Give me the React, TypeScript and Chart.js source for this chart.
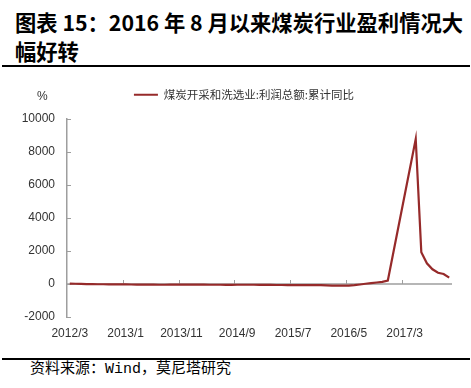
import React, { useEffect, useRef } from "react";
import { Chart, registerables } from "chart.js";

Chart.register(...registerables);

// ---- data ----
const START_YEAR = 2012;
const START_MONTH = 3;
const MONTH_COUNT = 69; // 2012/3 .. 2017/11

const CATEGORIES: string[] = [];
for (let k = 0; k < MONTH_COUNT; k++) {
  const m = START_MONTH - 1 + k;
  CATEGORIES.push(`${START_YEAR + Math.floor(m / 12)}/${(m % 12) + 1}`);
}

const TICK_LABELS = ["2012/3", "2013/1", "2013/11", "2014/9", "2015/7", "2016/5", "2017/3"];

const VALUES_2012 = [25, 15, 5, -5, -10, -15, -15, -18, -18, -20]; // 3..12
const VALUES_2013 = [-25, -30, -35, -40, -40, -42, -45, -45, -43, -42, -40, -40];
const VALUES_2014 = [-38, -40, -42, -44, -45, -46, -47, -47, -46, -46, -46, -46];
const VALUES_2015 = [-50, -55, -58, -60, -62, -63, -64, -65, -65, -66, -65, -65];
const VALUES_2016 = [-80, -95, -100, -100, -95, -70, -30, 15, 50, 90, 130, 210];
const VALUES_2017 = [null, null, null, null, 8788, 1921, 1255, 891, 685, 606, 382]; // 1..11

const SERIES_VALUES: (number | null)[] = [
  ...VALUES_2012,
  ...VALUES_2013,
  ...VALUES_2014,
  ...VALUES_2015,
  ...VALUES_2016,
  ...VALUES_2017,
];

const SERIES_NAME = "煤炭开采和洗选业:利润总额:累计同比";
const Y_MIN = -2000;
const Y_MAX = 10000;
const Y_STEP = 2000;

const LINE_COLOR = "#962a2a";
const AXIS_COLOR = "#9e9e9e";
const TEXT_COLOR = "#333333";

const excelAxes = {
  id: "excelAxes",
  beforeDatasetsDraw(chart: any) {
    const { ctx, chartArea, scales } = chart;
    const x = scales.x;
    const y = scales.y;
    const y0 = y.getPixelForValue(0);
    ctx.save();
    ctx.strokeStyle = AXIS_COLOR;
    ctx.lineWidth = 1.5;
    ctx.beginPath();
    ctx.moveTo(chartArea.left, y0);
    ctx.lineTo(chartArea.right, y0);
    ctx.stroke();
    ctx.lineWidth = 1;
    ctx.beginPath();
    CATEGORIES.forEach((c, i) => {
      if (i === 0 || !TICK_LABELS.includes(c)) return;
      const px = Math.round(x.getPixelForValue(i - 0.5)) + 0.5;
      ctx.moveTo(px, y0);
      ctx.lineTo(px, y0 - 4);
    });
    y.ticks.forEach((_t: any, idx: number) => {
      const py = Math.round(y.getPixelForTick(idx)) + 0.5;
      ctx.moveTo(chartArea.left, py);
      ctx.lineTo(chartArea.left + 4, py);
    });
    ctx.stroke();
    ctx.restore();
  },
};

function LineChart() {
  const ref = useRef<HTMLCanvasElement | null>(null);
  useEffect(() => {
    if (!ref.current) return;
    const chart = new Chart(ref.current, {
      type: "line",
      data: {
        labels: CATEGORIES,
        datasets: [
          {
            label: SERIES_NAME,
            data: SERIES_VALUES,
            borderColor: LINE_COLOR,
            backgroundColor: LINE_COLOR,
            borderWidth: 2.2,
            pointRadius: 0,
            tension: 0,
            spanGaps: true,
          },
        ],
      },
      options: {
        animation: false,
        responsive: false,
        maintainAspectRatio: false,
        layout: { padding: { left: 20, right: 3, top: 0, bottom: 0 } },
        plugins: {
          tooltip: { enabled: false },
          legend: {
            display: true,
            position: "top",
            labels: {
              usePointStyle: true,
              pointStyle: "line",
              pointStyleWidth: 24,
              boxHeight: 11.5,
              padding: 18,
              color: TEXT_COLOR,
              font: { family: '"Noto Sans CJK SC", sans-serif', size: 11.5 },
            },
          },
        },
        scales: {
          x: {
            type: "category",
            offset: true,
            grid: { display: false, drawTicks: false },
            border: { display: false },
            afterFit: (s: any) => {
              s.height = 30;
            },
            ticks: {
              autoSkip: false,
              maxRotation: 0,
              minRotation: 0,
              padding: 9,
              color: TEXT_COLOR,
              font: { family: "Arial, 'Liberation Sans', sans-serif", size: 12 },
              callback: (_v: any, i: number) =>
                TICK_LABELS.includes(CATEGORIES[i]) ? CATEGORIES[i] : "",
            },
          },
          // spacer between legend and plot area (no visible marks)
          xTopSpacer: {
            type: "category",
            position: "top",
            display: true,
            grid: { display: false, drawTicks: false },
            border: { display: false },
            ticks: { display: false },
            afterFit: (s: any) => {
              s.height = 8.5;
            },
          },
          y: {
            min: Y_MIN,
            max: Y_MAX,
            afterFit: (s: any) => {
              s.width = 47;
            },
            grid: { display: true, drawOnChartArea: false, drawTicks: false },
            border: { display: true, color: AXIS_COLOR, width: 1.5 },
            ticks: {
              stepSize: Y_STEP,
              padding: 12,
              color: TEXT_COLOR,
              font: { family: "Arial, 'Liberation Sans', sans-serif", size: 12 },
              callback: (v: any) => String(v),
            },
          },
          // spacer on the right (no visible marks)
          yRightSpacer: {
            type: "linear",
            position: "right",
            display: true,
            grid: { display: false, drawTicks: false },
            border: { display: false },
            ticks: { display: false },
            afterFit: (s: any) => {
              s.width = 16;
            },
          },
        },
      },
      plugins: [excelAxes],
    });
    return () => chart.destroy();
  }, []);
  return (
    <canvas
      ref={ref}
      width={471}
      height={276}
      style={{ position: "absolute", left: 0, top: 71, width: 471, height: 276 }}
    />
  );
}

export default function App() {
  return (
    <div
      style={{
        position: "absolute",
        left: 0,
        top: 0,
        width: 471,
        height: 388,
        background: "#fff",
        overflow: "hidden",
      }}
    >
      <div
        style={{
          position: "absolute",
          left: 15,
          top: 8,
          fontFamily: '"Noto Sans CJK SC", sans-serif',
          fontWeight: 700,
          fontSize: 21.3,
          lineHeight: "28.5px",
          color: "#000",
          whiteSpace: "nowrap",
        }}
      >
        图表 15：2016 年 8 月以来煤炭行业盈利情况大
        <br />
        幅好转
      </div>
      <div style={{ position: "absolute", left: 2, top: 64.5, width: 468, height: 2.7, background: "#000" }} />
      <LineChart />
      <span
        style={{
          position: "absolute",
          left: 37,
          top: 88,
          fontFamily: "Arial, 'Liberation Sans', sans-serif",
          fontSize: 12,
          lineHeight: "16px",
          color: TEXT_COLOR,
        }}
      >
        %
      </span>
      <div style={{ position: "absolute", left: 2, top: 358, width: 468, height: 2, background: "#000" }} />
      <div
        style={{
          position: "absolute",
          left: 30,
          top: 360,
          fontFamily: '"Liberation Mono", "Noto Sans CJK SC", monospace',
          fontSize: 15,
          lineHeight: "20px",
          color: "#000",
          whiteSpace: "nowrap",
        }}
      >
        资料来源：Wind，莫尼塔研究
      </div>
    </div>
  );
}
